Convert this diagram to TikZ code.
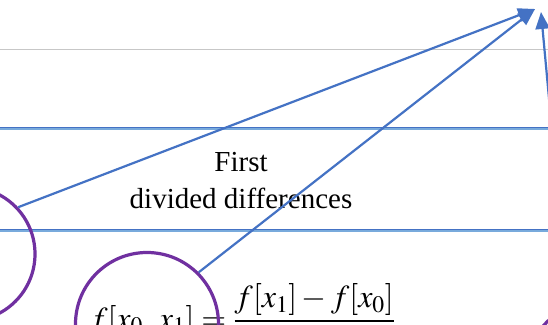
\documentclass[tikz,border=0pt]{standalone}
\usepackage{amsmath}
\usepackage{mathptmx}
\usepackage{fontspec}
\setmainfont{Liberation Serif}
\usetikzlibrary{arrows.meta,positioning}
\definecolor{linkblue}{RGB}{68,114,196}
\definecolor{bandblue}{RGB}{120,170,220}
\definecolor{ringpurple}{RGB}{112,48,160}

\begin{document}
\begin{tikzpicture}[x=1pt,y=-1pt,
    ring/.style={draw=ringpurple,line width=3.2pt,circle,inner sep=0pt},
    link/.style={linkblue,line width=2.2pt,-{Triangle[length=17pt,width=14pt]}},
    band/.style={bandblue,line width=3pt}]
  \clip (0,0) rectangle (548,324);
  \fill[white] (0,0) rectangle (548,324);
  \draw[black!22,line width=0.8pt] (0,49) -- (548,49);
  \foreach \yy in {128,230} {
    \draw[band] (0,\yy) -- (548,\yy);
    \draw[linkblue,line width=1pt] (0,\yy-0.6) -- (548,\yy-0.6);
  }
  % text and formula
  \node[align=center,font=\fontsize{29}{37}\selectfont] (title) at (241,180.5)
    {First\\divided differences};
  \node[anchor=base west,inner sep=0pt,font=\fontsize{32}{38}\selectfont] (eqn) at (89,329)
    {$f[x_0,\,x_1]=\dfrac{f[x_1]-f[x_0]}{x_1-x_0}$};
  % rings
  \node[ring,minimum size=134pt] (lcirc) at (-32,254) {};
  \node[ring,minimum size=143pt] (fcirc) at (147,324) {};
  \node[ring,minimum size=150pt] (rcirc) at (600,375) {};
  % arrows
  \coordinate (apex) at (535,9);
  \coordinate (apexr) at (541,12);
  \coordinate (rfoot) at (551,120);
  \draw[link] (lcirc.43) -- (apex);
  \draw[link] (fcirc.45) -- (apex);
  \draw[link] (rfoot) -- (apexr);
\end{tikzpicture}
\end{document}
